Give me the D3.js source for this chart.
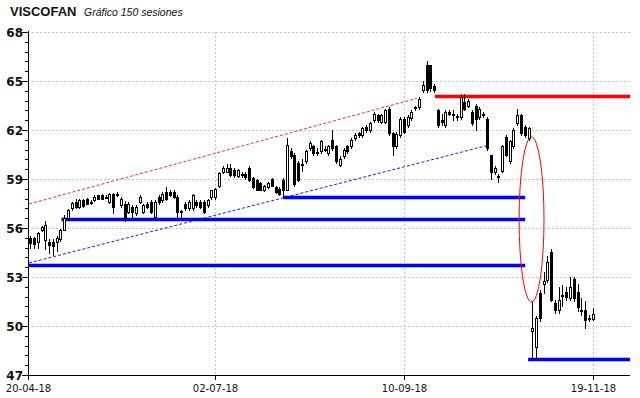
<!DOCTYPE html>
<html><head><meta charset="utf-8">
<script src="https://cdn.jsdelivr.net/npm/d3@7"></script>
<style>html,body{margin:0;padding:0;background:#fff;}svg{display:block;}</style>
</head><body>
<svg id="c" width="640" height="398"></svg>
<script>
// ---- data ----
const title = "VISCOFAN";
const subtitle = "Gráfico 150 sesiones";
const yTicks = [47, 50, 53, 56, 59, 62, 65, 68];
const xTickIdx = [0, 49, 99, 149];
const xTickLabels = ["20-04-18", "02-07-18", "10-09-18", "19-11-18"];
// OHLC per session (150 sessions)
const open = [55.37,55.37,55.16,55.88,55.27,55.16,55.16,55.16,55.35,55.9,
56.6,57.2,57.6,57.3,57.7,57.8,57.55,57.7,58.0,58.0,
57.9,57.6,58.1,58.1,57.4,57.5,57.0,57.3,56.9,57.6,
57.0,57.5,57.6,56.7,57.9,57.7,58.2,58.2,58.2,57.9,
57.0,57.5,57.2,57.2,57.6,57.6,57.6,57.4,57.9,57.9,
58.55,59.45,59.45,59.7,59.55,59.2,59.25,59.3,59.7,59.05,
58.95,58.75,58.3,58.5,59.0,58.5,58.4,58.95,58.35,60.7,
60.5,60.0,59.85,60.1,60.9,61.0,60.6,60.7,60.85,60.6,
61.4,61.0,59.85,60.4,61.0,61.0,61.5,61.8,61.7,62.2,
62.0,62.6,62.9,62.5,62.5,63.3,61.8,61.0,61.7,62.7,
62.3,62.75,63.35,63.4,64.45,66.0,66.0,64.7,63.2,62.6,
62.3,63.1,62.9,62.8,62.8,63.7,63.5,63.1,63.5,62.8,
63.0,62.7,60.5,59.4,59.2,59.5,61.6,60.1,61.0,62.4,
62.9,62.2,61.5,49.7,48.7,52.0,52.6,52.82,54.55,51.39,
50.98,51.85,52.1,51.7,52.86,52.1,50.95,50.98,50.45,50.41];
const high = [55.5,55.45,55.75,56.15,56.45,55.3,55.3,55.5,55.95,56.8,
57.15,57.6,57.75,57.75,57.8,57.85,57.7,58.0,58.05,58.1,
58.0,58.15,58.15,58.2,57.9,57.65,57.6,57.4,57.4,58.0,
57.5,57.6,57.7,57.7,58.0,58.2,58.5,58.3,58.3,58.0,
57.1,57.6,57.7,58.1,57.7,57.7,57.7,57.8,58.35,58.45,
59.45,59.8,59.9,59.9,59.65,59.6,59.4,59.4,59.8,59.1,
59.0,58.8,58.65,58.8,59.05,58.6,58.5,59.05,61.5,60.9,
60.6,60.1,60.2,60.8,61.3,61.1,60.9,61.4,61.0,61.1,
62.0,61.1,60.4,60.9,61.1,61.5,61.8,61.9,62.2,62.3,
62.5,63.1,63.0,63.0,63.3,63.4,61.9,61.9,62.8,62.8,
62.9,63.2,63.5,64.0,65.0,66.2,66.0,64.8,63.3,63.0,
63.2,63.2,63.2,63.0,64.2,64.2,63.9,63.2,63.6,63.4,
63.1,62.8,60.5,59.8,59.3,61.1,61.7,61.4,62.1,63.3,
63.0,62.3,62.2,51.5,50.6,52.2,53.3,54.3,54.7,51.6,
52.4,52.5,52.4,53.0,53.0,52.6,51.7,51.5,50.7,51.08];
const low = [54.8,54.75,54.8,55.8,54.7,54.45,54.35,54.6,55.2,55.85,
56.5,57.1,57.2,57.2,57.3,57.45,57.5,57.65,57.75,57.75,
57.85,57.55,56.9,57.95,57.3,56.45,56.9,56.5,56.8,57.55,
56.9,57.2,56.9,56.5,57.5,57.6,57.7,57.95,57.85,56.7,
56.6,57.1,57.1,57.1,57.3,57.2,56.9,57.3,57.8,57.8,
58.5,59.35,59.4,59.2,59.15,59.1,59.15,59.0,58.9,58.45,
58.3,58.3,58.25,58.45,58.55,58.15,58.05,57.9,58.3,60.3,
58.6,58.9,59.5,60.0,60.8,60.5,60.5,60.6,60.7,60.5,
60.8,60.0,59.8,60.3,60.6,60.9,61.4,61.6,61.6,61.9,
61.9,62.5,62.5,62.4,62.4,61.7,60.5,60.9,61.6,61.8,
62.2,62.6,63.2,63.3,64.3,64.3,64.4,64.3,62.2,62.3,
62.2,62.9,62.6,62.6,62.7,63.2,63.4,62.3,62.0,62.7,
62.8,60.8,59.0,59.3,58.8,59.4,60.4,60.0,60.9,62.3,
61.7,61.6,61.4,47.95,47.95,50.3,52.0,52.7,51.5,50.8,
50.8,51.2,51.6,51.6,51.5,50.9,50.7,49.86,50.3,50.37];
const close = [55.1,55.05,55.67,56.08,56.2,54.96,54.9,55.4,55.9,56.6,
57.1,57.55,57.3,57.7,57.35,57.5,57.6,57.9,57.8,57.8,
57.92,58.1,57.3,58.0,57.8,56.6,57.5,57.0,57.3,57.9,
57.4,57.3,57.0,57.6,57.6,58.1,57.8,58.0,57.9,57.0,
57.05,57.2,57.6,58.0,57.4,57.3,57.0,57.7,58.3,58.4,
59.35,59.65,59.65,59.25,59.25,59.55,59.3,59.1,58.95,58.5,
58.35,58.35,58.6,58.75,58.6,58.2,58.1,58.35,61.1,60.4,
58.7,58.95,59.9,60.7,61.2,60.6,60.65,61.3,60.8,61.0,
60.9,60.1,60.25,60.8,60.7,61.4,61.7,61.7,62.1,62.0,
62.4,63.0,62.6,62.9,63.2,61.8,61.0,61.75,62.7,61.9,
62.8,63.1,63.4,63.9,64.75,64.45,64.55,64.45,62.3,62.5,
63.1,63.0,62.95,62.85,64.0,63.3,63.8,62.4,62.7,63.3,
62.9,60.9,59.4,59.7,59.1,61.0,60.5,61.3,62.0,62.9,
61.8,61.7,62.1,49.9,50.47,50.47,52.77,53.94,51.6,50.98,
51.59,51.9,51.8,52.4,51.7,51.18,51.0,50.37,50.5,50.73];
// trend lines (dashed): [startIdx, startVal, endIdx, endVal]
const redTrend = [-0.3, 57.47, 102.4, 63.94];
const blueTrend = [-0.3, 53.86, 120.9, 61.04];
// horizontal levels: [startIdx, endIdx, value]
const redLevels = [[107.2, 158.9, 64.06]];
const blueLevels = [[67.0, 131.1, 57.9], [8.3, 131.1, 56.55], [-0.3, 131.1, 53.72], [131.9, 158.9, 47.95]];
// highlight ellipse: [leftIdx, rightIdx, topVal, bottomVal]
const ellipseBox = [129.5, 136.1, 61.57, 51.47];

// ---- drawing ----
const svg = d3.select("#c");
const L = 28, R = 630, T = 32, B = 375;
const x = d3.scaleLinear().domain([0, 149]).range([30.2, 592.7]);
const y = d3.scaleLinear().domain([47, 68]).range([B, T]);

// grid
const grid = svg.append("g");
yTicks.filter(v => v !== 47).forEach(v => {
  const yy = Math.round(y(v)) + 0.5;
  grid.append("line").attr("x1", L).attr("x2", R).attr("y1", yy).attr("y2", yy)
    .attr("stroke", "#c4c4c4").attr("stroke-dasharray", "2,2");
});
xTickIdx.slice(1).forEach(i => {
  const xx = Math.round(x(i)) + 0.5;
  grid.append("line").attr("x1", xx).attr("x2", xx).attr("y1", T).attr("y2", B)
    .attr("stroke", "#c4c4c4").attr("stroke-dasharray", "2,2");
});

// dashed trend lines
[[redTrend, "#ff2a2a"], [blueTrend, "#1a1aff"]].forEach(([t, col]) => {
  svg.append("line").attr("x1", x(t[0])).attr("y1", y(t[1])).attr("x2", x(t[2])).attr("y2", y(t[3]))
    .attr("stroke", col).attr("stroke-width", 1).attr("stroke-dasharray", "3,2");
});

// horizontal levels
function level(d, col, halo) {
  const yy = Math.round(y(d[2])) + 0.5;
  svg.append("line").attr("x1", x(d[0])).attr("x2", x(d[1])).attr("y1", yy).attr("y2", yy)
    .attr("stroke", halo).attr("stroke-width", 5);
  svg.append("line").attr("x1", x(d[0])).attr("x2", x(d[1])).attr("y1", yy).attr("y2", yy)
    .attr("stroke", col).attr("stroke-width", 3);
}
blueLevels.forEach(d => level(d, "#0000ff", "rgba(60,60,255,0.35)"));
redLevels.forEach(d => level(d, "#ff0000", "rgba(255,60,60,0.35)"));

// candles
const candles = svg.append("g");
d3.range(open.length).forEach(i => {
  const cx = Math.round(x(i));
  const o = open[i], h = high[i], l = low[i], c = close[i];
  candles.append("line").attr("x1", cx + 0.5).attr("x2", cx + 0.5)
    .attr("y1", Math.round(y(h))).attr("y2", Math.round(y(l)) + 1).attr("stroke", "#000").attr("stroke-width", 1);
  const top = Math.round(y(Math.max(o, c))) + 0.5;
  const bot = Math.round(y(Math.min(o, c))) + 0.5;
  const hgt = Math.max(1, bot - top);
  const up = c >= o;
  candles.append("rect").attr("x", cx - 0.5).attr("width", 2)
    .attr("y", top).attr("height", hgt)
    .attr("fill", up ? "#fff" : "#000").attr("stroke", "#000").attr("stroke-width", 1);
});

// ellipse
svg.append("ellipse")
  .attr("cx", (x(ellipseBox[0]) + x(ellipseBox[1])) / 2)
  .attr("cy", (y(ellipseBox[2]) + y(ellipseBox[3])) / 2)
  .attr("rx", (x(ellipseBox[1]) - x(ellipseBox[0])) / 2)
  .attr("ry", (y(ellipseBox[3]) - y(ellipseBox[2])) / 2)
  .attr("fill", "none").attr("stroke", "#ff0000").attr("stroke-width", 1);

// axes
const ax = svg.append("g");
ax.append("line").attr("x1", L + 0.5).attr("x2", L + 0.5).attr("y1", T - 1).attr("y2", B + 1).attr("stroke", "#000");
ax.append("line").attr("x1", L).attr("x2", R).attr("y1", B + 0.5).attr("y2", B + 0.5).attr("stroke", "#000");
// minor y ticks every 0.6
d3.range(0, 36).forEach(k => {
  const v = 47 + k * 0.6;
  if (v > 68.01) return;
  const yy = Math.round(y(v)) + 0.5;
  ax.append("line").attr("x1", L - 3).attr("x2", L).attr("y1", yy).attr("y2", yy).attr("stroke", "#000");
});
yTicks.forEach(v => {
  const yy = Math.round(y(v)) + 0.5;
  ax.append("line").attr("x1", L - 6).attr("x2", L).attr("y1", yy).attr("y2", yy).attr("stroke", "#000");
  ax.append("text").attr("x", 23).attr("y", yy).attr("dy", "0.36em").attr("text-anchor", "end")
    .attr("font-family", "DejaVu Sans").attr("font-weight", "bold").attr("font-size", 12)
    .attr("fill", "#111").text(v);
});
xTickIdx.forEach((i, k) => {
  const xx = (k === 0 ? L : Math.round(x(i))) + 0.5;
  ax.append("line").attr("x1", xx).attr("x2", xx).attr("y1", B).attr("y2", B + 5).attr("stroke", "#000");
  ax.append("text").attr("x", xx).attr("y", 392).attr("text-anchor", "middle")
    .attr("font-family", "DejaVu Sans").attr("font-size", 10).attr("fill", "#111").text(xTickLabels[k]);
});

// title
svg.append("text").attr("x", 10).attr("y", 16)
  .attr("font-family", "Liberation Sans").attr("font-weight", "bold").attr("font-size", 13)
  .attr("fill", "#111").text(title);
svg.append("text").attr("x", 84).attr("y", 16)
  .attr("font-family", "Liberation Sans").attr("font-style", "italic").attr("font-size", 10.5)
  .attr("fill", "#111").text(subtitle);
</script>
</body></html>
